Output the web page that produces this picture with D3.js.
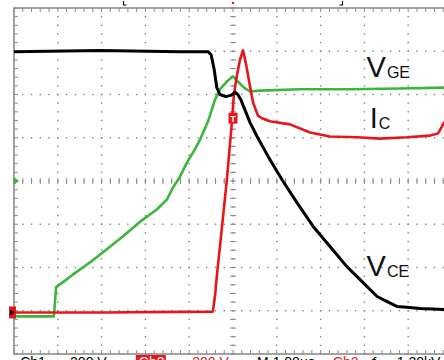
<!DOCTYPE html>
<html>
<head>
<meta charset="utf-8">
<script src="https://cdn.jsdelivr.net/npm/d3@7"></script>
<style>
  html, body { margin: 0; padding: 0; background: #fff; overflow: hidden; }
  svg { display: block; font-family: "Liberation Sans", Arial, sans-serif; }
</style>
</head>
<body>
<div id="scope"></div>
<script>
// time in µs (1.00 µs/div, trigger at 0), amplitude in divisions
const vceT = [-5.00,-3.04,-1.21,-0.57,-0.50,-0.43,-0.37,-0.30,-0.16,-0.05,0.05,0.11,0.18,0.27,0.39,0.55,0.84,1.12,1.46,1.83,2.21,2.60,2.97,3.29,3.52,3.74,3.97,4.27,4.82];
const vceV = [2.99,3.02,2.99,2.99,2.92,2.58,2.16,2.00,1.95,1.98,2.05,2.00,1.88,1.65,1.35,1.03,0.50,0.03,-0.50,-1.05,-1.51,-1.98,-2.35,-2.67,-2.79,-2.90,-2.92,-2.95,-2.97];

const vgeT = [-5.00,-4.09,-4.06,-4.04,-3.95,-3.65,-3.26,-2.88,-2.51,-2.12,-1.74,-1.51,-1.37,-1.21,-1.05,-0.87,-0.75,-0.57,-0.41,-0.30,-0.14,0.00,0.11,0.25,0.39,0.62,1.53,2.67,3.81,4.82];
const vgeV = [-3.13,-3.13,-2.74,-2.46,-2.39,-2.16,-1.88,-1.58,-1.28,-0.94,-0.66,-0.43,-0.15,0.10,0.43,0.73,0.96,1.38,1.88,2.12,2.30,2.42,2.30,2.16,2.07,2.09,2.12,2.12,2.14,2.16];

const icT = [-5.00,-3.04,-0.46,-0.41,-0.37,-0.25,-0.14,-0.02,0.02,0.09,0.16,0.23,0.30,0.39,0.46,0.57,0.66,0.84,1.30,1.76,2.21,2.83,3.36,3.97,4.50,4.68,4.75,4.82];
const icV = [-3.04,-3.04,-3.02,-2.65,-2.21,-1.05,0.03,1.42,2.00,2.44,2.81,3.02,2.69,2.18,1.81,1.51,1.45,1.38,1.31,1.12,1.03,1.01,0.98,1.01,1.05,1.10,1.22,1.36];

const labels = [
  {main: "V", sub: "GE", t: 3.05, v: 2.40},
  {main: "I", sub: "C",  t: 3.12, v: 1.23},
  {main: "V", sub: "CE", t: 3.05, v: -2.20}
];

const readout = [
  {text: "Ch1", t: -4.86, col: "#000"},
  {text: "200 V", t: -3.72, col: "#000"},
  {text: "Ch2", t: -2.15, col: "#fff", box: true},
  {text: "200 V", t: -0.93, col: "#e8161b"},
  {text: "M 1.00\u00b5s", t: 0.55, col: "#000"},
  {text: "Ch2", t: 2.28, col: "#e8161b"},
  {text: "\u0192", t: 3.13, col: "#000"},
  {text: "1.20kV", t: 3.74, col: "#000"}
];

const W = 444, H = 360;
const x = d3.scaleLinear().domain([-5, 5]).range([14, 452]);
const y = d3.scaleLinear().domain([4, -4]).range([8, 354]);

const svg = d3.select("#scope").append("svg")
  .attr("width", W).attr("height", H);

// graticule dots
const grid = svg.append("g").attr("fill", "#808080");
const fine = d3.range(-5, 5.001, 0.2);
const fineY = d3.range(-4, 4.001, 0.2);
d3.range(-4, 5).forEach(function(t) {
  grid.selectAll(null).data(fineY).enter().append("rect")
    .attr("x", x(t) - 0.7).attr("y", d => y(d) - 0.7)
    .attr("width", 1.4).attr("height", 1.4);
});
d3.range(-3, 4).forEach(function(v) {
  grid.selectAll(null).data(fine).enter().append("rect")
    .attr("x", d => x(d) - 0.7).attr("y", y(v) - 0.7)
    .attr("width", 1.4).attr("height", 1.4);
});

// ticks on centre lines and borders
const ticks = svg.append("g").attr("stroke", "#8a8a8a").attr("stroke-width", 1);
ticks.selectAll(null).data(fine).enter().append("line")
  .attr("x1", d => x(d)).attr("x2", d => x(d))
  .attr("y1", y(0) - 3).attr("y2", y(0) + 3);
ticks.selectAll(null).data(fineY).enter().append("line")
  .attr("x1", x(0) - 3).attr("x2", x(0) + 3)
  .attr("y1", d => y(d)).attr("y2", d => y(d));
ticks.selectAll(null).data(fine).enter().append("line")
  .attr("x1", d => x(d)).attr("x2", d => x(d))
  .attr("y1", y(4)).attr("y2", y(4) + 4);
ticks.selectAll(null).data(fine).enter().append("line")
  .attr("x1", d => x(d)).attr("x2", d => x(d))
  .attr("y1", y(-4)).attr("y2", y(-4) - 4);
ticks.selectAll(null).data(fineY).enter().append("line")
  .attr("x1", x(-5)).attr("x2", x(-5) + 4)
  .attr("y1", d => y(d)).attr("y2", d => y(d));

// border
svg.append("rect")
  .attr("x", x(-5)).attr("y", y(4))
  .attr("width", x(5) - x(-5)).attr("height", y(-4) - y(4))
  .attr("fill", "none").attr("stroke", "#8c8c8c").attr("stroke-width", 1.6);

// traces
const line = d3.line().x(d => x(d[0])).y(d => y(d[1]));
function trace(ts, vs, col, w) {
  svg.append("path")
    .datum(d3.zip(ts, vs))
    .attr("d", line)
    .attr("fill", "none")
    .attr("stroke", col)
    .attr("stroke-width", w)
    .attr("stroke-linejoin", "round");
}
trace(vgeT, vgeV, "#3cb53c", 2.6);
trace(icT, icV, "#e8161b", 2.6);
trace(vceT, vceV, "#000", 3);

// ground markers at left
svg.append("path")
  .attr("d", `M${x(-5)},${y(0) - 4}L${x(-5) + 5},${y(0)}L${x(-5)},${y(0) + 4}Z`)
  .attr("fill", "#3cb53c");
svg.append("rect")
  .attr("x", 9).attr("y", y(-3.04) - 6).attr("width", 7).attr("height", 12)
  .attr("fill", "#e8161b");
svg.append("path")
  .attr("d", `M10,${y(-3.04) - 3}L15,${y(-3.04)}L10,${y(-3.04) + 3}Z`)
  .attr("fill", "#000");

// trigger marker
svg.append("rect")
  .attr("x", x(0) - 4.5).attr("y", y(1.58)).attr("width", 9).attr("height", 11)
  .attr("fill", "#e8161b");
svg.append("text")
  .attr("x", x(0)).attr("y", y(1.58) + 9)
  .attr("text-anchor", "middle").attr("font-size", 9).attr("font-weight", "bold")
  .attr("fill", "#fff").text("T");

// top cursors
svg.append("path").attr("d", `M${x(-2.5)},1L${x(-2.5)},5L${x(-2.5) + 3},5`)
  .attr("stroke", "#000").attr("fill", "none").attr("stroke-width", 1.2);
svg.append("circle").attr("cx", x(0)).attr("cy", 3).attr("r", 1.3).attr("fill", "#e8161b");
svg.append("path").attr("d", `M${x(2.5) - 3},5L${x(2.5)},5L${x(2.5)},1`)
  .attr("stroke", "#000").attr("fill", "none").attr("stroke-width", 1.2);

// trace labels
labels.forEach(function(l) {
  const t = svg.append("text")
    .attr("x", x(l.t)).attr("y", y(l.v))
    .attr("fill", "#111");
  t.append("tspan").attr("font-size", 29).text(l.main);
  t.append("tspan").attr("font-size", 16).attr("dx", 1).attr("dy", 1).text(l.sub);
});

// readout line (mostly below the visible area, as in the screenshot)
readout.forEach(function(r) {
  if (r.box) {
    svg.append("rect")
      .attr("x", x(r.t) - 3).attr("y", 355).attr("width", 30).attr("height", 15)
      .attr("fill", "#e8161b");
  }
  svg.append("text")
    .attr("x", x(r.t)).attr("y", 367)
    .attr("font-size", 14).attr("fill", r.col)
    .text(r.text);
});
</script>
</body>
</html>
